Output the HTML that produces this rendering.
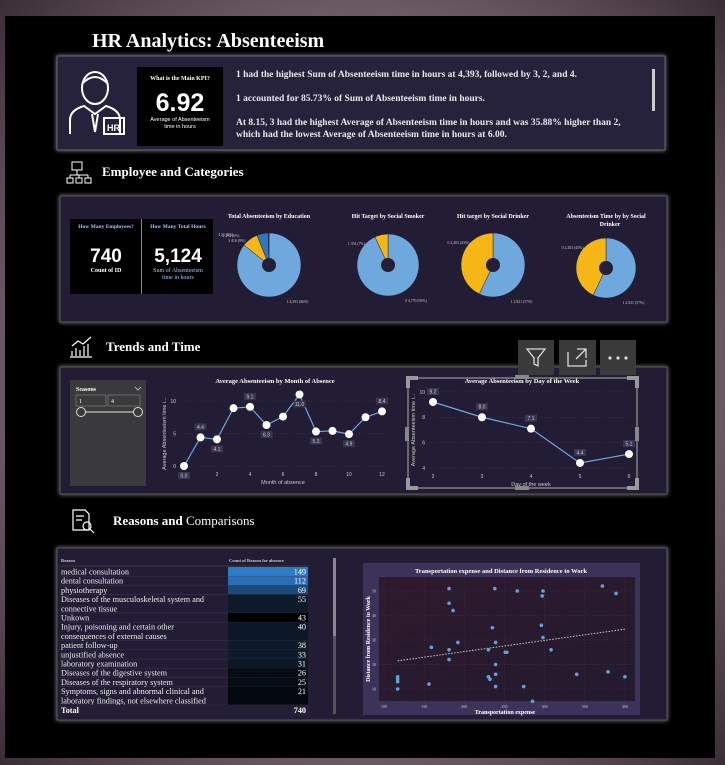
<!DOCTYPE html>
<html><head><meta charset="utf-8"><style>
body{margin:0;width:725px;height:765px;overflow:hidden;background:radial-gradient(ellipse at center,#a898a2 0%,#6a5862 70%,#3a2d35 100%);font-family:"Liberation Serif",serif}
svg{display:block}
text{font-family:"Liberation Serif",serif}
.s{font-family:"Liberation Sans",sans-serif}
</style></head><body>
<svg id="root" width="725" height="765" viewBox="0 0 725 765">
<defs>
<filter id="glow" x="-5%" y="-10%" width="110%" height="120%"><feDropShadow dx="0" dy="0" stdDeviation="2.5" flood-color="#bbb" flood-opacity="0.7"/></filter>
<linearGradient id="sg" x1="0" y1="0" x2="1" y2="1"><stop offset="0" stop-color="#2e1a2c"/><stop offset="1" stop-color="#241a30"/></linearGradient>
</defs>
<rect x="5" y="16" width="710" height="742" fill="#000"/>
<text x="92" y="47" fill="#fff" font-size="20" font-weight="bold">HR Analytics: Absenteeism</text>

<g>
<rect x="57" y="56" width="608" height="94" fill="#27223a" stroke="#666" stroke-width="1" filter="url(#glow)"/>
<g stroke="#fff" stroke-width="2" fill="none">
<ellipse cx="95" cy="88" rx="13" ry="16"/><path d="M82 84 q13 -14 26 0"/><path d="M70 134 v-14 q0 -10 14 -14 l11 8 l11 -8 q14 4 14 14 v14"/><path d="M92 114 l3 18 l3 -18"/><rect x="104" y="118" width="20" height="16"/>
</g>
<text x="107" y="131" fill="#fff" font-size="9" font-weight="bold" class="s">HR</text>
<rect x="137" y="67" width="86" height="79" fill="#000"/>
<text x="180" y="80" fill="#fff" font-size="6" text-anchor="middle" font-weight="bold">What is the Main KPI?</text>
<text x="180" y="111" fill="#fff" font-size="25" text-anchor="middle" font-weight="bold" class="s">6.92</text>
<text x="180" y="121" fill="#fff" font-size="5.5" text-anchor="middle" class="s">Average of Absenteeism</text>
<text x="180" y="128" fill="#fff" font-size="5.5" text-anchor="middle" class="s">time in hours</text>
<g fill="#e8e8f0" font-size="9.5" font-weight="bold">
<text x="236" y="77">1 had the highest Sum of Absenteeism time in hours at 4,393, followed by 3, 2, and 4.</text>
<text x="236" y="101">1 accounted for 85.73% of Sum of Absenteeism time in hours.</text>
<text x="236" y="125">At 8.15, 3 had the highest Average of Absenteeism time in hours and was 35.88% higher than 2,</text>
<text x="236" y="137">which had the lowest Average of Absenteeism time in hours at 6.00.</text>
</g>
<rect x="652" y="69" width="3" height="42" fill="#ccc"/>
</g>

<g>
<g stroke="#fff" stroke-width="1" fill="none"><rect x="72" y="162" width="10" height="8"/><path d="M77 170 v5 M70 175 h18 M70 175 v3 M79 175 v3 M88 175 v3"/><rect x="67" y="178" width="6" height="5"/><rect x="76" y="178" width="6" height="5"/><rect x="85" y="178" width="6" height="5"/></g>
<text x="102" y="176" fill="#fff" font-size="13" font-weight="bold">Employee and Categories</text>
</g>
<g>
<g stroke="#fff" stroke-width="1.2" fill="none"><path d="M70 357 h22 M72 356 v-5 M76 356 v-8 M80 356 v-6 M84 356 v-10 M88 356 v-12 M72 346 l6 -5 l5 3 l8 -7"/></g>
<text x="106" y="351" fill="#fff" font-size="13" font-weight="bold">Trends and Time</text>
</g>
<g>
<g stroke="#fff" stroke-width="1.2" fill="none"><path d="M73 510 h12 l4 4 v16 h-16 z M76 516 h8 M76 520 h6"/><circle cx="87" cy="526" r="4"/><path d="M90 529 l4 4"/></g>
<text x="113" y="525" fill="#fff" font-size="13" font-weight="bold">Reasons and <tspan font-weight="normal">Comparisons</tspan></text>
</g>

<rect x="60" y="196" width="607" height="126" fill="#241e36" stroke="#555" filter="url(#glow)"/>
<g>
<rect x="70" y="219" width="71" height="75" fill="#000"/>
<text x="106" y="228" fill="#aac4ff" font-size="5.5" text-anchor="middle" font-weight="bold">How Many Employees?</text>
<text x="106" y="262" fill="#fff" font-size="19" text-anchor="middle" font-weight="bold" class="s">740</text>
<text x="106" y="272" fill="#fff" font-size="6" text-anchor="middle" font-weight="bold">Count of ID</text>
</g>
<rect x="141" y="219" width="1" height="75" fill="#888"/>
<g>
<rect x="142" y="219" width="71" height="75" fill="#000"/>
<text x="178" y="228" fill="#aac4ff" font-size="5.5" text-anchor="middle" font-weight="bold">How Many Total Hours</text>
<text x="178" y="262" fill="#fff" font-size="19" text-anchor="middle" font-weight="bold" class="s">5,124</text>
<text x="178" y="272" fill="#aac4ff" font-size="6" text-anchor="middle">Sum of Absenteeism</text>
<text x="178" y="279" fill="#aac4ff" font-size="6" text-anchor="middle">time in hours</text>
</g>
<g id="pies"></g>

<rect x="60" y="367" width="607" height="127" fill="#241e36" stroke="#555" filter="url(#glow)"/>
<g>
<rect x="70" y="380" width="76" height="106" fill="#3a3a3c"/>
<text x="76" y="391" fill="#fff" font-size="6" font-weight="bold">Seasons</text>
<path d="M135 387 l3 3 l3 -3" stroke="#ccc" fill="none" stroke-width="0.8"/>
<rect x="76" y="395" width="30" height="11" fill="none" stroke="#888" stroke-width="0.6"/>
<text x="79" y="403" fill="#fff" font-size="6">1</text>
<rect x="108" y="395" width="32" height="11" fill="none" stroke="#888" stroke-width="0.6"/>
<text x="111" y="403" fill="#fff" font-size="6">4</text>
<line x1="81" y1="412" x2="138" y2="412" stroke="#ddd" stroke-width="1"/>
<circle cx="81" cy="412" r="4.5" fill="#3a3a3c" stroke="#ddd"/>
<circle cx="138" cy="412" r="4.5" fill="#3a3a3c" stroke="#ddd"/>
</g>
<g id="month"></g>
<g id="day"></g>
<g>
<rect x="518" y="340" width="36" height="35" fill="#3a3a3a"/>
<path d="M527 349 h18 l-7 9 v8 l-4 -2 v-6 z" fill="none" stroke="#ddd" stroke-width="1.3"/>
<rect x="559" y="340" width="37" height="35" fill="#3a3a3a"/>
<path d="M568 352 v14 h18 v-6 M577 349 h9 v9 M586 349 l-10 10" fill="none" stroke="#ddd" stroke-width="1.3"/>
<rect x="600" y="340" width="36" height="35" fill="#3a3a3a"/>
<circle cx="610" cy="358" r="1.6" fill="#ddd"/><circle cx="618" cy="358" r="1.6" fill="#ddd"/><circle cx="626" cy="358" r="1.6" fill="#ddd"/>
</g>

<rect x="57" y="548" width="610" height="172" fill="#241e36" stroke="#555" filter="url(#glow)"/>
<g id="table"></g>
<rect x="333" y="558" width="3" height="156" fill="#555"/>
<rect x="333" y="558" width="3" height="78" fill="#888"/>
<g id="scatter"></g>
</svg>
<script>
const NS='http://www.w3.org/2000/svg';
function el(t,a,p,txt){const e=document.createElementNS(NS,t);for(const k in a)e.setAttribute(k,a[k]);if(txt!==undefined)e.textContent=txt;p.appendChild(e);return e;}

const pieTitles=['Total Absenteeism by Education','Hit Target by Social Smoker','Hit target by Social Drinker','Absenteeism Time by by Social'];
const eduCats=['1','3','2','4'];const eduVals=[4393,416,294,21];
const smokerCats=['0','1'];const smokerVals=[4770,354];
const drinkerCats=['1','0'];const drinkerVals=[2921,2203];
const absCats=['1','0'];const absVals=[2921,2203];
const pieSets=[[eduCats,eduVals],[smokerCats,smokerVals],[drinkerCats,drinkerVals],[absCats,absVals]];
const pieColors={'1':'#6fa8dc','3':'#f6b716','2':'#2f78c0','4':'#1a4d80'};
const pieCenters=[[269,265,32],[388,265,31],[493,265,32],[606,268,30]];
const pg=document.getElementById('pies');
pieSets.forEach((s,i)=>{
  const [cx,cy,r]=pieCenters[i];const g=el('g',{},pg);
  
  
  el('text',{x:cx,y:218,fill:'#fff','font-size':6,'font-weight':'bold','text-anchor':'middle'},g,pieTitles[i]);
  if(i==3){el('text',{x:cx+4,y:226,fill:'#fff','font-size':6,'font-weight':'bold','text-anchor':'middle'},g,'Drinker');}
  const tot=s[1].reduce((a,b)=>a+b,0);let a0=0;
  s[1].forEach((v,j)=>{
    const a1=a0+v/tot*2*Math.PI;
    let col=i==0?pieColors[s[0][j]]:(j==0?'#6fa8dc':'#f6b716');
    const x0=cx+r*Math.sin(a0),y0=cy-r*Math.cos(a0),x1=cx+r*Math.sin(a1),y1=cy-r*Math.cos(a1);
    const p=el('path',{d:`M${cx},${cy} L${x0},${y0} A${r},${r} 0 ${a1-a0>Math.PI?1:0} 1 ${x1},${y1} Z`,fill:col,stroke:'#241e36','stroke-width':0.5},g);
    
    
    const am=(a0+a1)/2;
    const pct=Math.round(v/tot*100);
    let lx,ly,anc;
    if(j==0){lx=cx+r*0.55;ly=cy+r+6;anc='start';}
    else{lx=cx-r*0.55-6*j;ly=cy-r-2+j*3+(i==0?(j==1?8:j==3?-4:0):10);anc='end';}
    el('text',{x:lx,y:ly,fill:'#ccc','font-size':3.8,'text-anchor':anc},g,s[0][j]+' '+v.toLocaleString('en-US')+' ('+pct+'%)');
    a0=a1;
  });
  el('circle',{cx:cx,cy:cy,r:7,fill:'#241e36'},g);
});

const months=[0,1,2,3,4,5,6,7,8,9,10,11,12];
const monthVals=[0.0,4.4,4.1,8.9,9.1,6.3,7.6,11.0,5.3,5.4,4.9,7.5,8.4];
const monthXTicks=[0,2,4,6,8,10,12];const monthYTicks=[0,5,10];
const monthLabelPos=['b','a','b','','a','b','','b','b','','b','','a'];
const mx=m=>184+m*16.5, my=v=>466-v*6.5;
function lineChart(gid,cats,vals,xT,yT,sx,sy,title,tx,xl,yl,pos){
  const g=document.getElementById(gid);
  
  el('text',{x:tx,y:383,fill:'#fff','font-size':6.5,'font-weight':'bold','text-anchor':'middle'},g,title);
  yT.forEach(t=>{el('line',{x1:sx(xT[0])-2,x2:sx(xT[xT.length-1])+2,y1:sy(t),y2:sy(t),stroke:'#444','stroke-dasharray':'1,2','stroke-width':0.5},g);
    el('text',{x:sx(xT[0])-8,y:sy(t)+2,fill:'#ccc','font-size':5,'text-anchor':'end',class:'s'},g,t);});
  xT.forEach(t=>el('text',{x:sx(t),y:sy(yT[0])+10,fill:'#ccc','font-size':5,'text-anchor':'middle',class:'s'},g,t));
  el('text',{x:(sx(xT[0])+sx(xT[xT.length-1]))/2,y:sy(yT[0])+18,fill:'#ccc','font-size':5.5,'text-anchor':'middle',class:'s'},g,xl);
  const yx=sx(xT[0])-18,ym=(sy(yT[0])+sy(yT[yT.length-1]))/2;
  el('text',{x:yx,y:ym,fill:'#ccc','font-size':5.5,'text-anchor':'middle',class:'s',transform:`rotate(-90 ${yx} ${ym})`},g,yl);
  el('polyline',{points:cats.map((c,i)=>sx(c)+','+sy(vals[i])).join(' '),fill:'none',stroke:'#6fa8dc','stroke-width':1.2},g);
  cats.forEach((c,i)=>{
    const pt=el('circle',{cx:sx(c),cy:sy(vals[i]),r:4,fill:'#fff'},g);
    
    
    if(pos[i]){const ly=sy(vals[i])+(pos[i]=='a'?-13:7);
      el('rect',{x:sx(c)-6,y:ly-1,width:12,height:7,fill:'#3a3650'},g);
      el('text',{x:sx(c),y:ly+4.5,fill:'#ccc','font-size':5,'text-anchor':'middle',class:'s'},g,vals[i].toFixed(1));}
  });
}
lineChart('month',months,monthVals,monthXTicks,monthYTicks,mx,my,'Average Absenteeism by Month of Absence',275,'Month of absence','Average Absenteeism time i...',monthLabelPos);

const days=[2,3,4,5,6];const dayVals=[9.2,8.0,7.1,4.4,5.1];
const dayYTicks=[4,6,8,10];const dayXTicks=[2,3,4,5,6];
const dayLabelPos=['a','a','a','a','a'];
const dx=d=>433+(d-2)*49, dy=v=>402+(9.2-v)*12.7;
lineChart('day',days,dayVals,dayXTicks,dayYTicks,dx,dy,'Average Absenteeism by Day of the Week',522,'Day of the week','Average Absenteeism time i...',dayLabelPos);
(function(){const g=document.getElementById('day');
 const f=el('g',{},g);
 el('rect',{x:408,y:378,width:229,height:110,fill:'none',stroke:'#999','stroke-width':1.2},f);
 [[408,378,1,1],[637,378,-1,1],[408,488,1,-1],[637,488,-1,-1]].forEach(([x,y,a,b])=>el('path',{d:`M${x} ${y+b*10} V${y} H${x+a*10}`,fill:'none',stroke:'#999','stroke-width':4},f));
 [[405,427,4,14],[635,427,4,14],[515,375,14,4],[515,486,14,4]].forEach(([x,y,w,h])=>el('rect',{x,y,width:w,height:h,fill:'#888'},f));
})();

const reasons=['medical consultation','dental consultation','physiotherapy','Diseases of the musculoskeletal system and|connective tissue','Unkown','Injury, poisoning and certain other|consequences of external causes','patient follow-up','unjustified absence','laboratory examination','Diseases of the digestive system','Diseases of the respiratory system','Symptoms, signs and abnormal clinical and|laboratory findings, not elsewhere classified','Diseases of the genitourinary system'];
const reasonCounts=[149,112,69,55,43,40,38,33,31,26,25,21,19];
const barColors=['#2a7dc6','#2a6db3','#1c4a78','#0c1a2a','#000','#0c1828','#0d1a2a','#0d1a2a','#0b1726','#060c14','#060c14','#040910','#040910'];
(function(){const g=document.getElementById('table');
 
 el('text',{x:61,y:562,fill:'#ccc','font-size':4.5,'font-weight':'bold'},g,'Reason');
 el('text',{x:229,y:562,fill:'#ccc','font-size':4.5,'font-weight':'bold'},g,'Count of Reason for absence');
 el('line',{x1:60,x2:308,y1:566,y2:566,stroke:'#555','stroke-width':0.6},g);
 const clip=el('clipPath',{id:'tc'},g);el('rect',{x:55,y:566,width:260,height:141},clip);
 const body=el('g',{'clip-path':'url(#tc)'},g);
 let y=567;
 reasons.forEach((r,i)=>{const lines=r.split('|');const h=lines.length*9.2;
  const row=el('g',{},body);
  el('rect',{x:228,y:y,width:80,height:h,fill:barColors[i]},row);
  el('line',{x1:60,x2:308,y1:y+h,y2:y+h,stroke:'#3a3550','stroke-width':0.5},row);
  lines.forEach((l,k)=>el('text',{x:61,y:y+7.5+k*9.2,fill:'#eee','font-size':8.2},row,l));
  el('text',{x:306,y:y+7.5,fill:'#fff','font-size':8.2,'text-anchor':'end'},row,reasonCounts[i]);
  y+=h;});
 el('rect',{x:58,y:705,width:252,height:10,fill:'#241e36'},g);
 el('text',{x:61,y:713,fill:'#fff','font-size':8.2,'font-weight':'bold'},g,'Total');
 el('text',{x:306,y:713,fill:'#fff','font-size':8.2,'font-weight':'bold','text-anchor':'end'},g,'740');
})();

const transExp=[181,238,266,298,297,372,389,181,186,235,296,298,159,181,192,239,230,251,253,308,181,239,117,117,117,117,156,230,232,239,239,274,285,340,379,400];
const distWork=[51,51,50,50,48,52,49,45,42,35,36,31,27,26,29,29,26,25,25,26,22,20,15,14,13,10,12,15,14,16,11,11,5,16,17,15];
const scXTicks=[100,150,200,250,300,350,400];const scYTicks=[10,20,30,40,50];
const trendX=[117,400];const trendY=[21.5,34.4];
const sx=v=>384+(v-100)*0.803, sy=v=>689-(v-10)*2.45;
(function(){const g=document.getElementById('scatter');
 
 el('rect',{x:363,y:563,width:277,height:152,fill:'#3b335a'},g);
 el('text',{x:501,y:573,fill:'#fff','font-size':6.5,'font-weight':'bold','text-anchor':'middle'},g,'Transportation expense and Distance from Residence to Work');
 el('rect',{x:379,y:577,width:256,height:124,fill:'url(#sg)'},g);
 scYTicks.forEach(t=>{el('line',{x1:379,x2:635,y1:sy(t),y2:sy(t),stroke:'#4a3a50','stroke-dasharray':'1,2','stroke-width':0.5},g);
   el('text',{x:376,y:sy(t)+1.5,fill:'#ccc','font-size':4,'text-anchor':'end'},g,t);});
 scXTicks.forEach(t=>{el('line',{x1:sx(t),x2:sx(t),y1:577,y2:701,stroke:'#4a3a50','stroke-dasharray':'1,2','stroke-width':0.5},g);
   el('text',{x:sx(t),y:708,fill:'#ccc','font-size':4,'text-anchor':'middle'},g,t);});
 el('text',{x:505,y:714,fill:'#fff','font-size':6,'font-weight':'bold','text-anchor':'middle'},g,'Transportation expense');
 el('text',{x:370,y:639,fill:'#fff','font-size':6,'font-weight':'bold','text-anchor':'middle',transform:'rotate(-90 370 639)'},g,'Distance from Residence to Work');
 el('line',{x1:sx(trendX[0]),y1:sy(trendY[0]),x2:sx(trendX[1]),y2:sy(trendY[1]),stroke:'#ddd','stroke-dasharray':'1.5,1.5','stroke-width':0.9},g);
 transExp.forEach((v,i)=>{const c=el('circle',{cx:sx(v),cy:sy(distWork[i]),r:1.8,fill:'#5ea3db'},g);
  
  });
})();
</script>
</body></html>
